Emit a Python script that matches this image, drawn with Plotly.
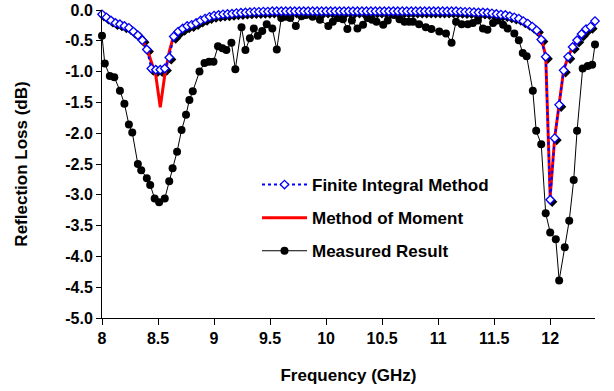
import plotly.graph_objects as go

# ---------------- data ----------------
freq_sim = [round(8 + 0.04 * i, 2) for i in range(111)]  # 8.00 ... 12.40 GHz

fit_db = [
    -0.07, -0.12, -0.17, -0.21, -0.23, -0.26, -0.29, -0.35, -0.41, -0.49,
    -0.64, -0.95, -0.97, -0.97, -0.95, -0.77, -0.43, -0.35, -0.30, -0.26,
    -0.24, -0.21, -0.17, -0.14, -0.11, -0.09, -0.08, -0.07, -0.065, -0.06,
    -0.05, -0.045, -0.04, -0.035, -0.03, -0.03, -0.025, -0.025, -0.02, -0.02,
    -0.02, -0.02, -0.02, -0.02, -0.02, -0.02, -0.02, -0.02, -0.02, -0.02,
    -0.02, -0.02, -0.02, -0.02, -0.02, -0.02, -0.02, -0.02, -0.02, -0.02,
    -0.02, -0.02, -0.02, -0.02, -0.02, -0.02, -0.02, -0.02, -0.02, -0.02,
    -0.02, -0.02, -0.02, -0.02, -0.02, -0.02, -0.02, -0.02, -0.02, -0.02,
    -0.025, -0.03, -0.03, -0.035, -0.04, -0.04, -0.045, -0.055, -0.065, -0.075,
    -0.08, -0.10, -0.12, -0.14, -0.18, -0.22, -0.27, -0.33, -0.48, -0.76,
    -3.08, -2.08, -1.54, -0.98, -0.76, -0.60, -0.49, -0.39, -0.31, -0.27,
    -0.18,
]

mom_db = [
    -0.07, -0.12, -0.17, -0.21, -0.23, -0.26, -0.29, -0.35, -0.41, -0.50,
    -0.62, -0.84, -1.06, -1.58, -1.06, -0.68, -0.41, -0.35, -0.30, -0.26,
    -0.24, -0.21, -0.17, -0.14, -0.11, -0.09, -0.08, -0.07, -0.065, -0.06,
    -0.05, -0.045, -0.04, -0.035, -0.03, -0.03, -0.025, -0.025, -0.02, -0.02,
    -0.02, -0.02, -0.02, -0.02, -0.02, -0.02, -0.02, -0.02, -0.02, -0.02,
    -0.02, -0.02, -0.02, 0.0, -0.02, -0.02, -0.02, -0.02, -0.02, -0.02,
    -0.02, -0.02, -0.02, -0.02, -0.02, -0.02, -0.02, -0.02, -0.02, -0.02,
    -0.02, -0.02, -0.02, -0.02, -0.02, -0.02, -0.02, -0.02, -0.02, -0.02,
    -0.025, -0.03, -0.03, -0.035, -0.04, -0.04, -0.045, -0.055, -0.065, -0.075,
    -0.08, -0.10, -0.12, -0.14, -0.18, -0.22, -0.27, -0.33, -0.46, -0.74,
    -3.03, -2.08, -1.54, -0.98, -0.76, -0.60, -0.49, -0.39, -0.31, -0.27,
    -0.18,
]

freq_meas = [
    8.00, 8.025, 8.07, 8.11, 8.16, 8.20, 8.24, 8.27, 8.32, 8.35,
    8.40, 8.43, 8.47, 8.51, 8.56, 8.60, 8.63, 8.67, 8.71, 8.75,
    8.78, 8.81, 8.87, 8.915, 8.955, 8.995, 9.035, 9.075, 9.11, 9.155,
    9.19, 9.245, 9.28, 9.32, 9.355, 9.39, 9.43, 9.47, 9.52, 9.56,
    9.60, 9.64, 9.68, 9.73, 9.78, 9.82, 9.88, 9.945, 10.02, 10.06,
    10.105, 10.15, 10.19, 10.23, 10.28, 10.33, 10.37, 10.41, 10.45, 10.51,
    10.55, 10.605, 10.655, 10.70, 10.74, 10.775, 10.83, 10.89, 10.94, 11.01,
    11.07, 11.12, 11.16, 11.21, 11.265, 11.31, 11.355, 11.40, 11.44, 11.49,
    11.53, 11.58, 11.62, 11.68, 11.72, 11.755, 11.79, 11.845, 11.875, 11.92,
    11.96, 12.00, 12.05, 12.08, 12.13, 12.17, 12.21, 12.24, 12.29, 12.335,
    12.375, 12.40,
]

meas_db = [
    -0.42, -0.87, -1.07, -1.09, -1.31, -1.52, -1.86, -1.99, -2.50, -2.60,
    -2.73, -2.84, -3.06, -3.12, -3.06, -2.78, -2.57, -2.30, -1.95, -1.70,
    -1.46, -1.32, -1.00, -0.86, -0.84, -0.84, -0.59, -0.62, -0.65, -0.53,
    -0.96, -0.28, -0.65, -0.46, -0.30, -0.42, -0.34, -0.23, -0.30, -0.64,
    -0.13, -0.11, -0.13, -0.26, -0.10, -0.08, -0.11, -0.16, -0.26, -0.19,
    -0.13, -0.15, -0.31, -0.17, -0.30, -0.24, -0.13, -0.16, -0.19, -0.24,
    -0.17, -0.08, -0.15, -0.19, -0.19, -0.19, -0.23, -0.28, -0.31, -0.35,
    -0.38, -0.53, -0.19, -0.23, -0.23, -0.21, -0.17, -0.30, -0.32, -0.21,
    -0.17, -0.24, -0.30, -0.38, -0.49, -0.70, -0.75, -1.31, -1.96, -2.18,
    -3.30, -3.61, -3.72, -4.39, -3.85, -3.42, -2.76, -1.96, -0.95, -0.91,
    -0.89, -0.56,
]

x_tick_vals = [8, 8.5, 9, 9.5, 10, 10.5, 11, 11.5, 12]
x_tick_text = ["8", "8.5", "9", "9.5", "10", "10.5", "11", "11.5", "12"]
y_tick_vals = [0, -0.5, -1, -1.5, -2, -2.5, -3, -3.5, -4, -4.5, -5]
y_tick_text = ["0.0", "-0.5", "-1.0", "-1.5", "-2.0", "-2.5", "-3.0",
               "-3.5", "-4.0", "-4.5", "-5.0"]

x_range = [8, 12.4]
y_range = [-5, 0]

# ---------------- layout constants ----------------
W, H = 614, 391
ML, MR, MT, MB = 102, 19, 10, 73
FONT = "Liberation Sans, Arial, sans-serif"
PW, PH = W - ML - MR, H - MT - MB

px_per_x = PW / (x_range[1] - x_range[0])
px_per_y = PH / (y_range[1] - y_range[0])
sh = 2.0  # shadow offset in pixels
shadow_x_range = [x_range[0] - sh / px_per_x, x_range[1] - sh / px_per_x]
shadow_y_range = [y_range[0] + sh / px_per_y, y_range[1] + sh / px_per_y]

fig = go.Figure()

# shadow of the FIT markers (base subplot, shifted axes)
fig.add_trace(go.Scatter(
    x=freq_sim, y=fit_db, mode="markers", xaxis="x", yaxis="y",
    marker=dict(symbol="diamond", size=6.5, color="black",
                line=dict(width=1.3, color="black")),
    showlegend=False, hoverinfo="skip", cliponaxis=False,
))

fig.add_trace(go.Scatter(
    x=freq_meas, y=meas_db, mode="lines+markers", name="Measured Result",
    xaxis="x2", yaxis="y2", legendgroup="c", legendrank=3,
    line=dict(color="black", width=1),
    marker=dict(symbol="circle", size=8, color="black"),
    cliponaxis=False,
))

fig.add_trace(go.Scatter(
    x=freq_sim, y=mom_db, mode="lines", name="Method of Moment",
    xaxis="x2", yaxis="y2", legendgroup="b", legendrank=2,
    line=dict(color="#ff0000", width=3),
))

fig.add_trace(go.Scatter(
    x=freq_sim, y=fit_db, mode="lines+markers", name="Finite Integral Method",
    xaxis="x2", yaxis="y2", legendgroup="a", legendrank=1,
    line=dict(color="#0000ff", width=2, dash="dot"),
    marker=dict(symbol="diamond", size=6.5, color="white",
                line=dict(width=1.3, color="#0000ff")),
    cliponaxis=False,
))

tickfont = dict(family=FONT, size=16, color="black", weight="bold")
titlefont = dict(family=FONT, size=17, color="black", weight="bold")

fig.update_layout(
    width=W, height=H,
    margin=dict(l=ML, r=MR, t=MT, b=MB, pad=0, autoexpand=False),
    paper_bgcolor="white", plot_bgcolor="white",
    font=dict(family=FONT, color="black"),
    xaxis=dict(range=shadow_x_range, visible=False, fixedrange=True,
               automargin=False),
    yaxis=dict(range=shadow_y_range, visible=False, fixedrange=True,
               automargin=False),
    xaxis2=dict(
        range=x_range, overlaying="x", anchor="y2", automargin=False,
        tickvals=x_tick_vals, ticktext=x_tick_text,
        showline=True, linecolor="black", linewidth=1,
        ticks="outside", ticklen=6, tickcolor="black", tickwidth=1,
        showgrid=False, zeroline=False, tickfont=tickfont,
        title=dict(text="Frequency (GHz)", font=titlefont, standoff=22),
    ),
    yaxis2=dict(
        range=y_range, overlaying="y", anchor="x2", side="left",
        automargin=False,
        tickvals=y_tick_vals, ticktext=y_tick_text,
        showline=True, linecolor="black", linewidth=1,
        ticks="outside", ticklen=5, tickcolor="black", tickwidth=1,
        showgrid=False, zeroline=False, tickfont=tickfont,
        title=dict(text="Reflection Loss (dB)", font=titlefont, standoff=33),
    ),
    legend=dict(
        x=(257 - ML) / PW, y=1 - (167 - MT) / PH,
        xanchor="left", yanchor="top",
        bgcolor="rgba(0,0,0,0)", borderwidth=0,
        font=dict(family=FONT, size=17, color="black", weight="bold"),
        traceorder="grouped", tracegroupgap=8, itemwidth=45,
    ),
    showlegend=True,
)

fig.write_html("out.html", config={"displayModeBar": False},
               post_script="document.body.style.margin='0';")
